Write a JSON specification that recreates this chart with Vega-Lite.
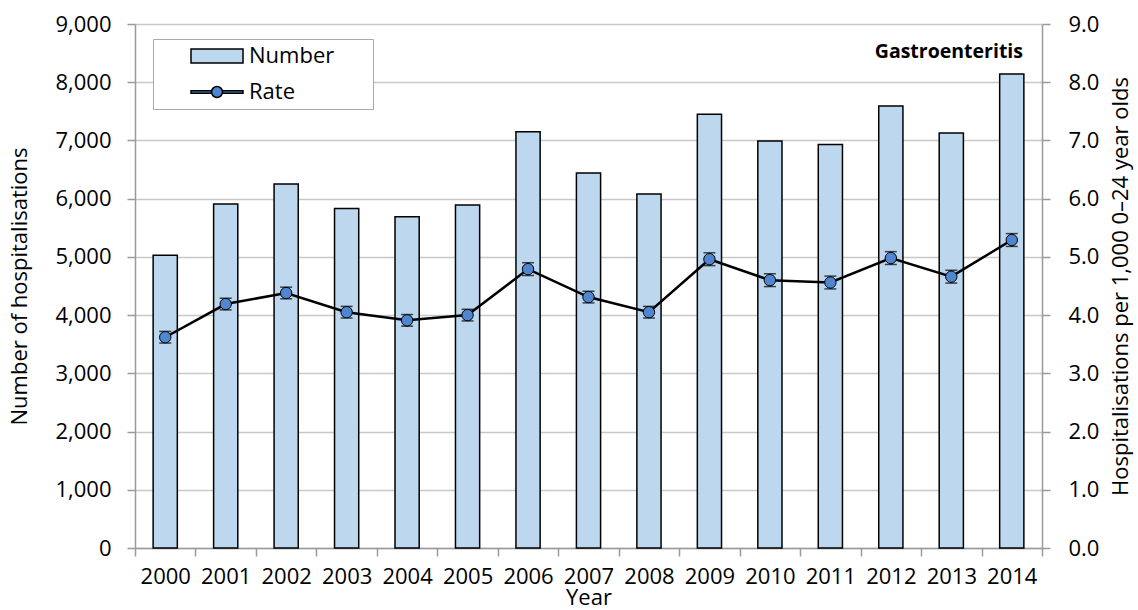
{
  "$schema": "https://vega.github.io/schema/vega-lite/v6.json",
  "width": 907,
  "height": 524,
  "autosize": {"type": "none"},
  "padding": {"left": 135, "top": 24, "right": 96, "bottom": 62},
  "background": "white",
  "config": {
    "font": "Open Sans",
    "view": {"stroke": null},
    "axis": {
      "labelFont": "Open Sans", "titleFont": "Open Sans",
      "labelFontSize": 22, "titleFontSize": 22, "titleFontWeight": "normal",
      "labelColor": "black", "titleColor": "black",
      "domainColor": "#9a9a9a", "tickColor": "#9a9a9a", "gridColor": "#c8c8c8",
      "domainWidth": 1.5, "tickWidth": 1.5, "gridWidth": 1.5
    },
    "legend": {"labelFont": "Open Sans", "labelFontSize": 22, "labelColor": "black"}
  },
  "title": {
    "text": "Gastroenteritis", "anchor": "end", "orient": "top", "frame": "group",
    "offset": 0, "baseline": "alphabetic", "dy": 64, "dx": -19,
    "font": "Open Sans", "fontSize": 19.5, "fontWeight": "bold", "color": "black"
  },
  "data": {
    "values": [
      {"year": "2000", "number": 5030, "rate": 3.62, "lo": 3.52, "hi": 3.72},
      {"year": "2001", "number": 5910, "rate": 4.19, "lo": 4.09, "hi": 4.29},
      {"year": "2002", "number": 6250, "rate": 4.38, "lo": 4.28, "hi": 4.48},
      {"year": "2003", "number": 5830, "rate": 4.05, "lo": 3.95, "hi": 4.15},
      {"year": "2004", "number": 5690, "rate": 3.91, "lo": 3.81, "hi": 4.01},
      {"year": "2005", "number": 5890, "rate": 4.00, "lo": 3.90, "hi": 4.10},
      {"year": "2006", "number": 7150, "rate": 4.79, "lo": 4.68, "hi": 4.90},
      {"year": "2007", "number": 6440, "rate": 4.31, "lo": 4.21, "hi": 4.41},
      {"year": "2008", "number": 6080, "rate": 4.05, "lo": 3.95, "hi": 4.15},
      {"year": "2009", "number": 7450, "rate": 4.96, "lo": 4.85, "hi": 5.07},
      {"year": "2010", "number": 6990, "rate": 4.60, "lo": 4.49, "hi": 4.71},
      {"year": "2011", "number": 6930, "rate": 4.56, "lo": 4.45, "hi": 4.67},
      {"year": "2012", "number": 7590, "rate": 4.98, "lo": 4.87, "hi": 5.09},
      {"year": "2013", "number": 7130, "rate": 4.66, "lo": 4.55, "hi": 4.77},
      {"year": "2014", "number": 8140, "rate": 5.29, "lo": 5.18, "hi": 5.40}
    ]
  },
  "encoding": {
    "x": {
      "field": "year", "type": "ordinal",
      "scale": {"paddingInner": 0, "paddingOuter": 0},
      "axis": {"title": "Year", "labelAngle": 0, "tickBand": "extent", "tickSize": 8, "labelPadding": 10, "titlePadding": 0, "grid": false}
    }
  },
  "layer": [
    {
      "mark": {"type": "bar", "stroke": "black", "strokeWidth": 1.5, "width": {"band": 0.4}},
      "encoding": {
        "y": {
          "field": "number", "type": "quantitative",
          "scale": {"domain": [0, 9000]},
          "axis": {"title": "Number of hospitalisations", "format": ",.0f", "values": [0,1000,2000,3000,4000,5000,6000,7000,8000,9000], "tickSize": 8, "labelPadding": 16, "titlePadding": 23, "grid": true}
        },
        "color": {
          "datum": "Number", "type": "nominal",
          "scale": {"domain": ["Number", "Rate"], "range": ["#BDD7EE", "#4F86CF"]},
          "legend": {
            "title": null, "orient": "none", "legendX": 18, "legendY": 15,
            "strokeColor": "#aaaaaa", "fillColor": "white", "padding": 6,
            "symbolSize": 400, "rowPadding": 14, "labelOffset": 68,
            "symbolType": {"expr": "datum.value === 'Number' ? 'M2.1,-0.7H7.3V0.7H2.1Z' : 'M2.1,-0.13H4.15V0.13H2.1Z M5.25,-0.13H7.3V0.13H5.25Z M4.15,0A0.55,0.55 0 1,0 5.25,0A0.55,0.55 0 1,0 4.15,0Z'"},
            "symbolStrokeColor": "black",
            "symbolStrokeWidth": 1.5,
            "symbolOpacity": 1,
            "labelExpr": "datum.label + '\u2800\u2800'"
          }
        }
      }
    },
    {
      "layer": [
        {
          "mark": {"type": "rule", "color": "black", "strokeWidth": 1.5},
          "encoding": {
            "y": {"field": "lo", "type": "quantitative"},
            "y2": {"field": "hi"}
          }
        },
        {
          "mark": {"type": "tick", "color": "black", "size": 12, "thickness": 1.5},
          "encoding": {"y": {"field": "lo", "type": "quantitative"}}
        },
        {
          "mark": {"type": "tick", "color": "black", "size": 12, "thickness": 1.5},
          "encoding": {"y": {"field": "hi", "type": "quantitative"}}
        },
        {
          "mark": {"type": "line", "color": "black", "strokeWidth": 2.5},
          "encoding": {"y": {"field": "rate", "type": "quantitative"}}
        },
        {
          "mark": {"type": "point", "shape": "circle", "filled": true, "stroke": "black", "strokeWidth": 1, "size": 130, "opacity": 1},
          "encoding": {
            "y": {"field": "rate", "type": "quantitative"},
            "color": {"datum": "Rate", "type": "nominal"}
          }
        }
      ],
      "encoding": {
        "y": {
          "scale": {"domain": [0, 9]},
          "axis": {"orient": "right", "title": "Hospitalisations per 1,000 0–24 year olds", "format": ".1f", "values": [0,1,2,3,4,5,6,7,8,9], "tickSize": 8, "labelPadding": 18, "titlePadding": 34, "titleAngle": -90, "grid": false}
        }
      }
    }
  ],
  "resolve": {"scale": {"y": "independent"}}
}
